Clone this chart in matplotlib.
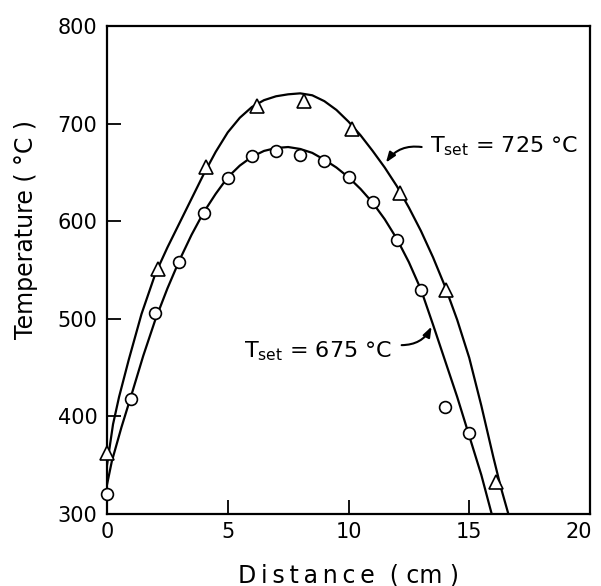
import matplotlib
matplotlib.use("Agg")
import matplotlib.pyplot as plt
import matplotlib.transforms as mtransforms

# ---- data ----
circ_x = [0, 1, 2, 3, 4, 5, 6, 7, 8, 9, 10, 11, 12, 13, 14, 15]
circ_y = [320, 418, 506, 558, 608, 644, 667, 672, 668, 662, 645, 620, 581, 529, 410, 383]

tri_x = [0, 2.1, 4.1, 6.2, 8.15, 10.15, 12.15, 14.05, 16.1]
tri_y = [362, 551, 656, 718, 723, 694, 629, 530, 333]

# drawn (hand-fitted) curves
c725_x = [0, 0.25, 0.5, 0.9, 1.43, 2, 2.5, 3, 3.5, 4, 4.5, 5, 5.5, 6, 6.5, 7, 7.5, 8,
          8.5, 9, 9.5, 10, 10.5, 11, 11.5, 12, 12.5, 13, 13.5, 14, 14.5, 15, 15.5, 16,
          16.3, 16.62]
c725_y = [350, 392, 420, 458, 505, 546, 573, 598, 623, 648, 671, 691, 706, 717, 724, 728,
          730, 731, 729, 723, 714, 702, 688, 672, 655, 636, 614, 590, 563, 533, 499, 460,
          411, 358, 328, 300]

c675_x = [0, 0.2, 0.6, 1, 1.5, 2, 2.5, 3, 3.5, 4, 4.5, 5, 5.5, 6, 6.5, 7, 7.5, 8, 8.5,
          9, 9.5, 10, 10.5, 11, 11.5, 12, 12.5, 13, 13.5, 14, 14.5, 15, 15.5, 15.93]
c675_y = [330, 354, 389, 421, 462, 499, 531, 560, 586, 609, 628, 645, 657, 666, 672, 675,
          676, 674, 670, 663, 655, 645, 633, 619, 602, 582, 558, 530, 494, 457, 420, 380,
          340, 300]

x_ticks = [0, 5, 10, 15, 20]
y_ticks = [300, 400, 500, 600, 700, 800]

plt.rcParams['font.family'] = ['DejaVu Sans']
plt.rcParams['mathtext.fontset'] = 'dejavusans'

fig = plt.figure(figsize=(6.01, 5.86), dpi=100)
ax = fig.add_axes([107/601, 1-514/586, (590-107)/601, (514-26)/586])

ax.plot(c725_x, c725_y, color='black', lw=1.6, solid_capstyle='round', solid_joinstyle='round')
ax.plot(c675_x, c675_y, color='black', lw=1.6, solid_capstyle='round', solid_joinstyle='round')
ax.plot(tri_x, tri_y, ls='none', marker='^', ms=9.5, mfc='white', mec='black', mew=1.2,
        zorder=3, clip_on=False)
ax.plot(circ_x, circ_y, ls='none', marker='o', ms=8.5, mfc='white', mec='black', mew=1.2,
        zorder=3, clip_on=False)

ax.set_xlim(0, 20)
ax.set_ylim(300, 800)
ax.set_xticks(x_ticks)
ax.set_yticks(y_ticks)
ax.tick_params(axis='both', which='both', direction='in', length=10, width=1.3,
               labelsize=15, top=False, right=False)
ax.tick_params(axis='x', pad=6)
ax.tick_params(axis='y', pad=7)
for s in ax.spines.values():
    s.set_linewidth(1.6)

# the last x label sits slightly left of its tick in the reference
fig.canvas.draw()
last = ax.get_xticklabels()[-1]
last.set_transform(last.get_transform() +
                   mtransforms.ScaledTranslation(-8/72, 0, fig.dpi_scale_trans))

ax.text(0.5, -0.125, "D\u2009i\u2009s\u2009t\u2009a\u2009n\u2009c\u2009e  ( cm )",
        transform=ax.transAxes, ha='center', va='center', fontsize=17)
ax.text(-0.168, 0.582, "Temperature ( °C )", transform=ax.transAxes, ha='center',
        va='center', rotation=90, fontsize=17)

# annotations
ax.text(13.37, 671, r"T$_{\mathrm{set}}$ = 725 °C", fontsize=16, ha='left', va='baseline')
ax.annotate("", xy=(11.55, 660), xytext=(13.03, 676),
            arrowprops=dict(arrowstyle='-|>,head_length=0.6,head_width=0.22',
                            color='black', lw=1.5, connectionstyle='arc3,rad=0.3',
                            shrinkA=0, shrinkB=0))
ax.text(5.67, 460, r"T$_{\mathrm{set}}$ = 675 °C", fontsize=16, ha='left', va='baseline')
ax.annotate("", xy=(13.44, 492), xytext=(12.2, 473),
            arrowprops=dict(arrowstyle='-|>,head_length=0.6,head_width=0.22',
                            color='black', lw=1.5, connectionstyle='arc3,rad=0.3',
                            shrinkA=0, shrinkB=0))

fig.savefig("out.png", dpi=100)
